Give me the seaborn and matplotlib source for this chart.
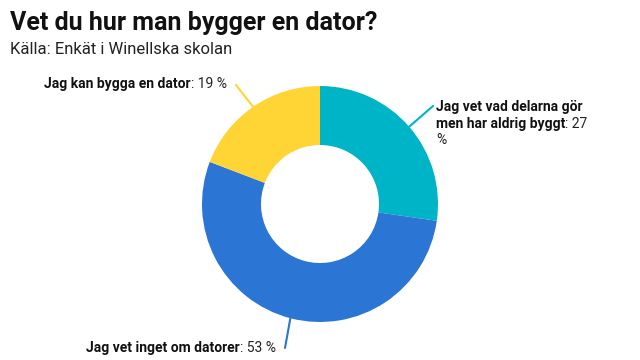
import numpy as np
import matplotlib
matplotlib.use("Agg")
import matplotlib.pyplot as plt
import seaborn as sns

# Data
labels_bold = ["Jag vet vad delarna gör\nmen har aldrig byggt", "Jag vet inget om datorer", "Jag kan bygga en dator"]
values = [27, 53, 19]
colors = ["#00b4c8", "#2b76d4", "#ffd535"]

sns.set_theme(style="white")
plt.rcParams['font.family'] = ['Roboto', 'DejaVu Sans']

W, H = 640, 360
fig = plt.figure(figsize=(W / 100, H / 100), dpi=100)

def fx(x):
    return x / W

def fy(y):
    return 1 - y / H

# donut centred at (320, 204) px, radius 118 px
cx, cy, r = 320, 204, 118
ax = fig.add_axes([fx(cx - r), fy(cy + r), 2 * r / W, 2 * r / H])
wedges, _ = ax.pie(values, colors=colors, startangle=90, counterclock=False,
                   wedgeprops=dict(width=0.5, linewidth=0), radius=1)
ax.set_xlim(-1, 1)
ax.set_ylim(-1, 1)
ax.set_aspect("auto")
ax.axis("off")

fig.text(fx(10), fy(23), "Vet du hur man bygger en dator?", fontsize=18, fontweight="bold",
         va="center", ha="left", color="#111111")
fig.text(fx(10), fy(50), "Källa: Enkät i Winellska skolan", fontsize=12,
         va="center", ha="left", color="#222222")

renderer = fig.canvas.get_renderer()

# label anchor points (pixel) and line end points
label_pos = [(436, 100, "left"), (276, 348, "right"), (227, 84, "right")]
line_end = [(433, 106), (285, 348), (236, 85)]
fs = 10

total = sum(values)
cum = 0
for i, (v, c) in enumerate(zip(values, colors)):
    mid = 90 - (cum + v / 2) / total * 360
    cum += v
    ang = np.deg2rad(mid)
    sx = cx + r * np.cos(ang)
    sy = cy - r * np.sin(ang)
    ex, ey = line_end[i]
    fig.add_artist(plt.Line2D([fx(sx), fx(ex)], [fy(sy), fy(ey)], color=c, lw=1.5,
                              transform=fig.transFigure))

    lx, ly, side = label_pos[i]
    if side == "left":
        lines = labels_bold[i].split("\n")
        lh = 17
        for j, ln in enumerate(lines):
            t = fig.text(fx(lx), fy(ly + 7 + j * lh), ln, fontsize=fs, fontweight="bold",
                         ha="left", va="center", color="#111111")
        bb = t.get_window_extent(renderer)
        fig.text(bb.x1 / W, fy(ly + 7 + (len(lines) - 1) * lh), ": %d" % v, fontsize=fs,
                 ha="left", va="center", color="#222222")
        fig.text(fx(lx), fy(ly + 7 + len(lines) * lh - 1), "%", fontsize=fs,
                 ha="left", va="center", color="#222222")
    else:
        t = fig.text(fx(lx), fy(ly), ": %d %%" % v, fontsize=fs,
                     ha="right", va="center", color="#222222")
        bb = t.get_window_extent(renderer)
        fig.text(bb.x0 / W, fy(ly), labels_bold[i], fontsize=fs, fontweight="bold",
                 ha="right", va="center", color="#111111")

fig.savefig("out.png", dpi=100)
